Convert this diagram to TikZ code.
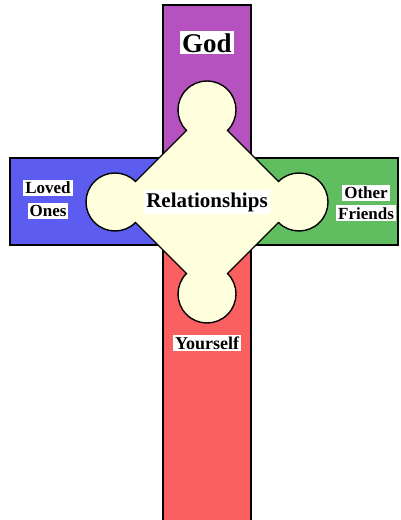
\documentclass[tikz,border=0pt]{standalone}
\usepackage{fontspec}
\setmainfont{Liberation Serif}
\usetikzlibrary{positioning, calc}

\definecolor{purp}{RGB}{182,82,192}
\definecolor{blu}{RGB}{92,92,240}
\definecolor{grn}{RGB}{96,190,96}
\definecolor{rd}{RGB}{250,96,96}
\definecolor{cream}{RGB}{255,255,222}

\begin{document}
\begin{tikzpicture}[x=1pt, y=1pt]
\tikzstyle{arm} = [draw=black, line width=1.4pt]
\tikzstyle{lbl} = [fill=white, inner sep=2pt, font=\bfseries]
\tikzstyle{side} = [lbl, font=\bfseries\fontsize{17}{20}\selectfont]

\useasboundingbox (0,0) rectangle (400,520);

% the four arms
\draw [arm, fill=purp] (163,318) rectangle (251,515);
\draw [arm, fill=blu] (10,275) rectangle (207,362);
\draw [arm, fill=grn] (207,275) rectangle (398,362);
\draw [arm, fill=rd] (163,-5) rectangle (251,318);

% centre shape
\coordinate (top) at (207,410);
\coordinate (left) at (115,318);
\coordinate (bot) at (207,226);
\coordinate (right) at (299,318);

\draw [line width=1.4pt, fill=cream]
  ($(top)+(-45:29pt)$) arc[start angle=-45, end angle=225, radius=29pt]
  -- ($(left)+(45:29pt)$) arc[start angle=45, end angle=315, radius=29pt]
  -- ($(bot)+(135:29pt)$) arc[start angle=135, end angle=405, radius=29pt]
  -- ($(right)+(225:29pt)$) arc[start angle=225, end angle=495, radius=29pt]
  -- cycle;

\node (rel) [lbl, font=\bfseries\fontsize{21}{24}\selectfont] at (207,318) {Relationships};
\node (god) [lbl, font=\bfseries\fontsize{27}{30}\selectfont] at (207,477) {God};
\node (you) [lbl, font=\bfseries\fontsize{18}{21}\selectfont] at (207,177) {Yourself};
\node (loved) [side] at (48,332) {Loved};
\node (ones) [side, below=7pt of loved] {Ones};
\node (other) [side] at (366,327) {Other};
\node (friends) [side, below=4pt of other] {Friends};
\end{tikzpicture}
\end{document}
